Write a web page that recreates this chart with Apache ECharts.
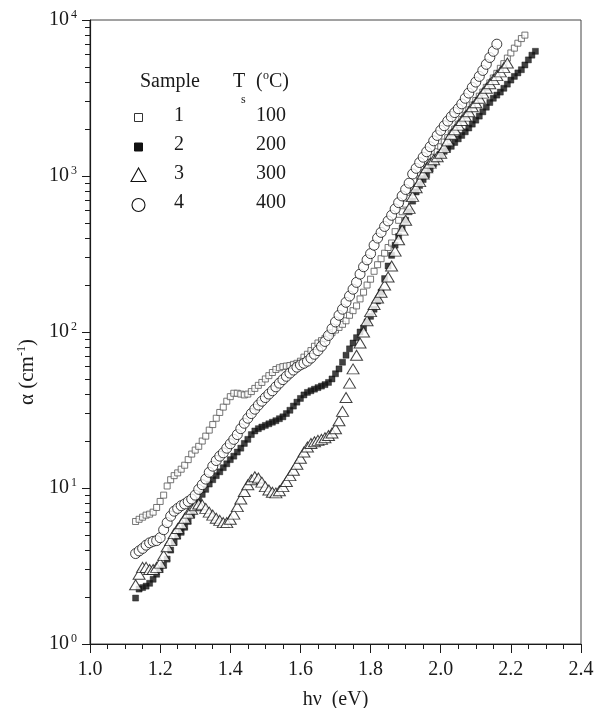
<!DOCTYPE html>
<html>
<head>
<meta charset="utf-8">
<script src="https://cdn.jsdelivr.net/npm/echarts@6/dist/echarts.min.js"></script>
<style>html,body{margin:0;padding:0;background:#fff}#c{width:595px;height:708px}</style>
</head>
<body>
<div id="c"></div>
<script>
// photon energy (eV), shared by all samples (each sample uses the first N entries)
var energy = [1.13,1.14,1.15,1.16,1.17,1.18,1.19,1.20,1.21,1.22,1.23,1.24,1.25,1.26,1.27,1.28,1.29,1.30,1.31,1.32,1.33,1.34,1.35,1.36,1.37,1.38,1.39,1.40,1.41,1.42,1.43,1.44,1.45,1.46,1.47,1.48,1.49,1.50,1.51,1.52,1.53,1.54,1.55,1.56,1.57,1.58,1.59,1.60,1.61,1.62,1.63,1.64,1.65,1.66,1.67,1.68,1.69,1.70,1.71,1.72,1.73,1.74,1.75,1.76,1.77,1.78,1.79,1.80,1.81,1.82,1.83,1.84,1.85,1.86,1.87,1.88,1.89,1.90,1.91,1.92,1.93,1.94,1.95,1.96,1.97,1.98,1.99,2.00,2.01,2.02,2.03,2.04,2.05,2.06,2.07,2.08,2.09,2.10,2.11,2.12,2.13,2.14,2.15,2.16,2.17,2.18,2.19,2.20,2.21,2.22,2.23,2.24,2.25,2.26,2.27];

// absorption coefficient alpha (cm^-1)
var sample1 = [6.1,6.3,6.5,6.7,6.8,7.0,7.5,8.2,9.0,10.3,11.3,12.0,12.5,13.2,14.0,15.2,16.5,17.5,18.5,20,21.5,23.5,25.5,28,30.5,33,36,38.5,40.5,40.5,40,39.5,40,41.5,43.5,45.5,47.5,50,52.5,55,57.5,59,60,60.5,61,62,63,65,69,72,76,81,85,88,91,95,99,103,107,112,118,128,137,147,163,180,200,218,245,270,295,320,348,372,440,520,590,660,720,790,850,960,1050,1140,1220,1320,1430,1540,1650,1760,1880,2000,2150,2300,2450,2650,2850,3050,3250,3450,3700,3950,4250,4550,4900,5250,5700,6150,6600,7100,7600,8000];
var sample2 = [1.97,2.25,2.3,2.35,2.45,2.6,2.8,3.0,3.2,3.5,4.0,4.5,4.9,5.2,5.6,6.1,6.7,7.5,8.3,9.1,9.8,10.6,11.3,12,12.7,13.5,14.3,15.2,16,17,18,19.3,20.5,22,23.2,24,24.6,25.2,25.8,26.4,27,27.8,28.6,30,31.5,33.5,35.5,37.5,39.5,41,42,43,44,45,46,47.5,50,54,58,64,71,78,85,92,100,106,116,126,140,158,180,220,265,310,360,410,460,520,590,690,790,870,950,1020,1110,1200,1290,1380,1440,1500,1550,1640,1730,1820,1920,2030,2150,2280,2420,2580,2760,2960,3150,3300,3450,3650,3880,4120,4350,4580,4800,5150,5550,5950,6300];
var sample3 = [2.4,2.8,3.1,3.1,3.0,3.0,3.1,3.3,3.7,4.2,4.6,5.1,5.5,5.9,6.4,6.9,7.3,7.7,7.9,7.8,7.4,7.0,6.7,6.4,6.2,6.0,6.0,6.3,6.8,7.6,8.5,9.5,10.5,11.3,11.8,11.6,10.9,10.2,9.7,9.4,9.3,9.6,10.2,11.0,12.0,13.0,14.2,15.5,17.0,18.3,19.3,19.8,20.2,20.5,21,21.7,22.5,24,27,31,38,47,58,71,85,100,118,135,150,165,180,200,225,265,330,390,450,520,620,740,840,920,1030,1130,1210,1270,1330,1400,1520,1680,1850,1980,2120,2270,2420,2580,2780,2950,3150,3400,3650,3900,4150,4400,4650,4950,5300];
var sample4 = [3.8,3.95,4.1,4.3,4.45,4.55,4.6,4.8,5.4,6.0,6.6,7.1,7.4,7.7,7.9,8.2,8.5,9.0,9.8,10.5,11.4,12.6,13.8,15,16,16.8,18,19.2,20.5,22,24,26,28,30,32,34,36,38,40,42,44.5,47,49.5,52,54.5,57,59.5,61.5,63,65,68,72,76,81,87,95,105,116,128,140,155,170,188,208,235,262,290,318,360,400,435,475,515,560,615,675,745,820,900,1030,1120,1220,1320,1430,1540,1680,1820,1960,2100,2250,2400,2550,2700,2900,3150,3400,3700,4000,4350,4750,5200,5750,6300,7000];

var sampleNames = ['1','2','3','4'];
var temperatures = ['100','200','300','400'];
// y axis tick values
var yMajorTicks = [1,10,100,1000,10000];
var yMinorTicks = [2,3,4,5,6,7,8,9,20,30,40,50,60,70,80,90,200,300,400,500,600,700,800,900,2000,3000,4000,5000,6000,7000,8000,9000];

function pairs(vals){ var out=[]; for(var i=0;i<vals.length;i++){ out.push([energy[i], vals[i]]); } return out; }

var FONT = 'Liberation Serif';
var INK = '#1a1a1a';
var FS = 20;
var chart = echarts.init(document.getElementById('c'), null, {renderer:'canvas'});

var supRich = {
  b:{fontFamily:FONT,fontSize:FS,color:INK},
  s:{fontFamily:FONT,fontSize:12,color:INK,padding:[0,0,11,2]}
};

var option = {
  animation:false,
  backgroundColor:'#fff',
  grid:{left:90,right:14,top:20,bottom:64,outerBoundsMode:'none',containLabel:false,show:true,borderColor:'#444',borderWidth:1,backgroundColor:'transparent'},
  xAxis:{
    type:'value',min:1.0,max:2.4,interval:0.2,
    axisLine:{show:true,lineStyle:{color:INK,width:1.2}},
    axisTick:{show:true,inside:false,length:9,lineStyle:{color:INK,width:1}},
    minorTick:{show:true,splitNumber:4,length:5,lineStyle:{color:INK,width:1}},
    splitLine:{show:false},
    axisLabel:{fontFamily:FONT,fontSize:FS,color:INK,margin:16,formatter:function(v){return v.toFixed(1);}},
    name:'hν  (eV)',nameLocation:'middle',nameGap:46,
    nameTextStyle:{fontFamily:FONT,fontSize:FS,color:INK}
  },
  yAxis:[{
    type:'log',logBase:10,min:1,max:10000,
    axisLine:{show:true,lineStyle:{color:INK,width:1.2}},
    axisTick:{show:true,inside:false,length:8,customValues:yMajorTicks,lineStyle:{color:INK,width:1}},
    minorTick:{show:false},
    splitLine:{show:false},
    axisLabel:{margin:13,customValues:yMajorTicks,formatter:function(v){var e=Math.round(Math.log10(v));return '{b|10}{s|'+e+'}';},rich:supRich}
  },{
    type:'log',logBase:10,min:1,max:10000,position:'left',
    axisLine:{show:false},
    axisTick:{show:true,inside:false,length:5,customValues:yMinorTicks,lineStyle:{color:INK,width:1}},
    axisLabel:{show:false},
    splitLine:{show:false}
  }],
  series:[
    {type:'scatter',name:'1',data:pairs(sample1),symbol:'rect',symbolSize:6,
     itemStyle:{color:'#fff',borderColor:'#555',borderWidth:1},z:2},
    {type:'scatter',name:'2',data:pairs(sample2),symbol:'rect',symbolSize:6,
     itemStyle:{color:'#111',borderColor:'#111',borderWidth:0.5},z:2},
    {type:'scatter',name:'3',data:pairs(sample3),symbol:'triangle',symbolSize:[12,10],
     itemStyle:{color:'#fff',borderColor:'#111',borderWidth:1},z:3},
    {type:'scatter',name:'4',data:pairs(sample4),symbol:'circle',symbolSize:10,
     itemStyle:{color:'#fff',borderColor:'#111',borderWidth:1},z:4}
  ],
  graphic:[]
};

var g = option.graphic;
function txt(t, x, y, align, size){ return {type:'text',x:x,y:y,style:{text:t,fontFamily:FONT,fontSize:size||FS,fill:INK,align:align||'left',verticalAlign:'middle'}}; }
// y axis title
g.push({type:'text',x:27,y:372,rotation:Math.PI/2,style:{text:'{b|α (cm}{s|-1}{b|)}',align:'center',verticalAlign:'middle',
  rich:{b:{fontFamily:FONT,fontSize:21,fill:INK,color:INK},s:{fontFamily:FONT,fontSize:12,fill:INK,color:INK,padding:[0,0,11,0]}}}});
// legend table
g.push(txt('Sample',140,82));
g.push(txt('T',233,82));
g.push(txt('s',241,100,'left',12));
g.push(txt('(',256,82));
g.push(txt('o',263,76,'left',12));
g.push(txt('C)',269,82));
var rowY = [116,145,174,203];
for (var i=0;i<4;i++){
  g.push(txt(sampleNames[i],179,rowY[i],'center'));
  g.push(txt(temperatures[i],286,rowY[i],'right'));
}
g.push({type:'rect',shape:{x:134.5,y:113.5,width:8,height:8},style:{fill:'#fff',stroke:'#333',lineWidth:1}});
g.push({type:'rect',shape:{x:134.5,y:143,width:8,height:8},style:{fill:'#111',stroke:'#111',lineWidth:1}});
g.push({type:'polygon',shape:{points:[[138.5,168],[131,181.5],[146,181.5]]},style:{fill:'#fff',stroke:'#111',lineWidth:1.1}});
g.push({type:'circle',shape:{cx:138.5,cy:205,r:6.5},style:{fill:'#fff',stroke:'#111',lineWidth:1.1}});

chart.setOption(option);
</script>
</body>
</html>
